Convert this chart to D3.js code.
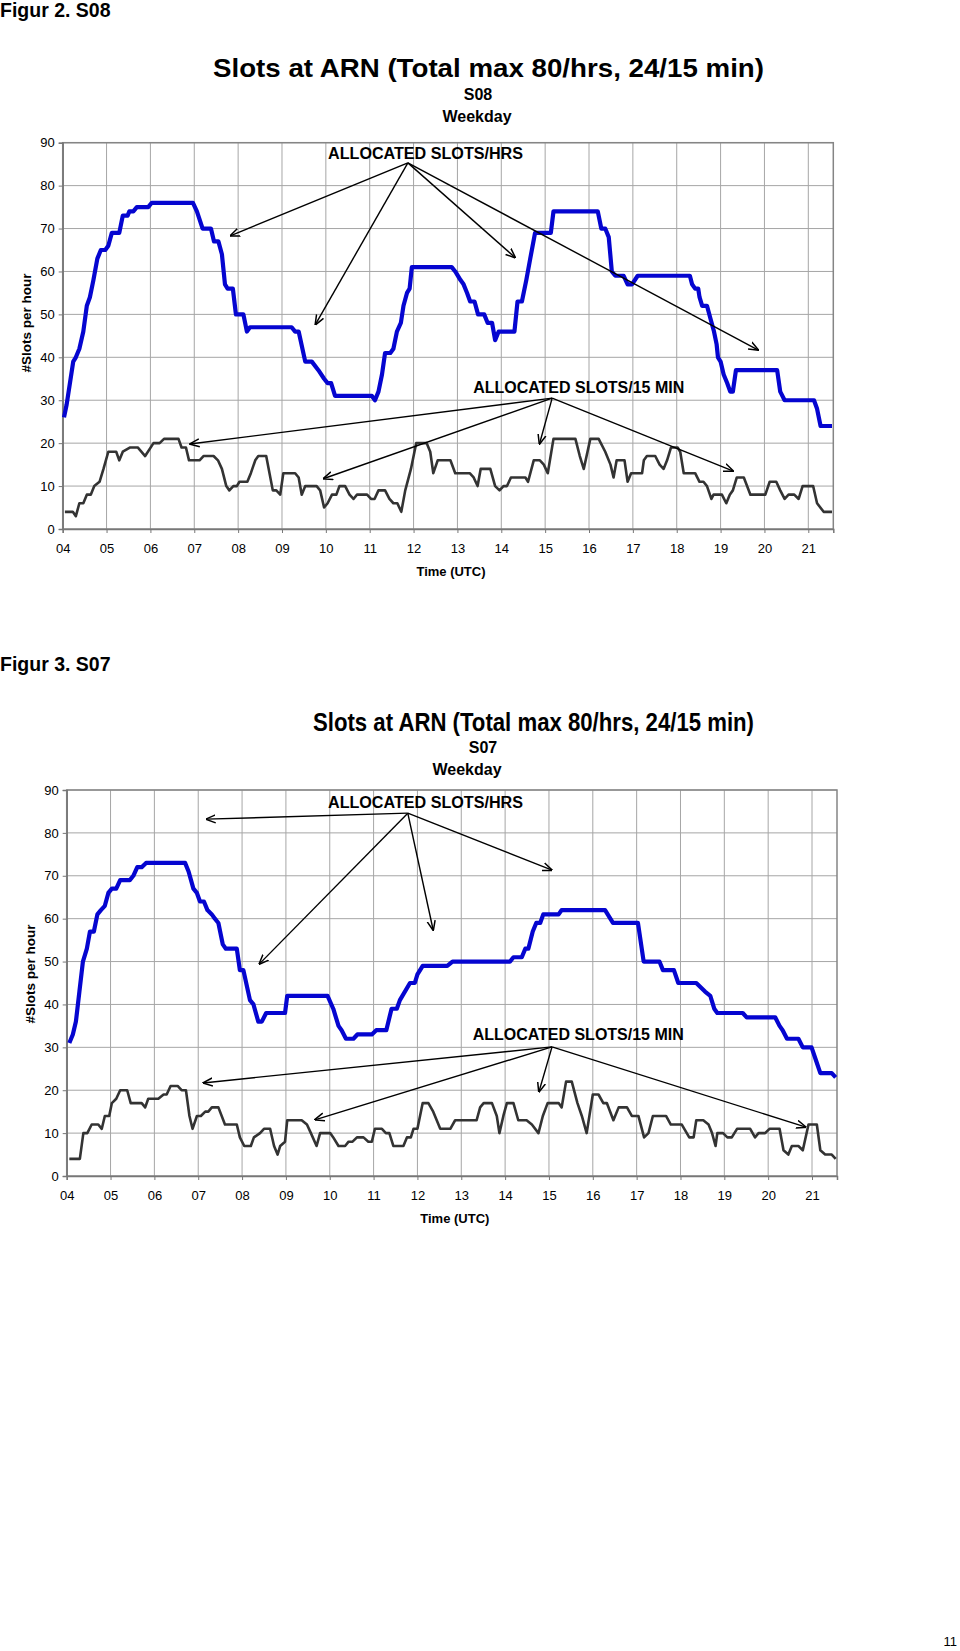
<!DOCTYPE html>
<html><head><meta charset="utf-8">
<script src="https://cdn.jsdelivr.net/npm/d3@7"></script>
<style>
body{margin:0;background:#fff}
svg{display:block}
text{font-family:"Liberation Sans",Arial,Helvetica,sans-serif;fill:#000}
</style>
</head><body>
<svg id="c" width="960" height="1651"></svg>
<script>
// ---------- data ----------
const hourTicks = [4,5,6,7,8,9,10,11,12,13,14,15,16,17,18,19,20,21];
const hourLabels = ["04","05","06","07","08","09","10","11","12","13","14","15","16","17","18","19","20","21"];
const valueTicks = [0,10,20,30,40,50,60,70,80,90];

// S08: allocated slots per hour ([clock hour, slots])
const s08Hourly = [[4.03,26],[4.09,29],[4.24,39],[4.30,40],[4.38,42],[4.47,46],[4.55,52],[4.62,54],[4.70,58],[4.79,63],
[4.87,65],[4.97,65],[5.04,66],[5.12,69],[5.29,69],[5.37,73],[5.48,73],[5.52,74],[5.61,74],[5.69,75],
[5.95,75],[6.03,76],[6.97,76],[7.06,74],[7.19,70],[7.38,70],[7.45,67],[7.55,67],[7.63,64],[7.70,57],
[7.76,56],[7.88,56],[7.95,50],[8.12,50],[8.20,46],[8.27,47],[9.22,47],[9.30,46],[9.38,46],[9.53,39],
[9.68,39],[9.83,37],[9.96,35],[10.04,34],[10.12,34],[10.21,31],[11.05,31],[11.12,30],[11.20,32],[11.28,36],
[11.35,41],[11.47,41],[11.54,42],[11.62,46],[11.71,48],[11.77,52],[11.85,55],[11.91,56],[11.96,61],[12.87,61],
[12.95,60],[13.07,58],[13.14,57],[13.22,55],[13.29,53],[13.39,53],[13.47,50],[13.61,50],[13.69,48],[13.79,48],
[13.86,44],[13.94,46],[14.30,46],[14.37,53],[14.47,53],[14.57,58],[14.66,63],[14.77,69],[15.13,69],[15.19,74],
[16.20,74],[16.28,70],[16.37,70],[16.45,68],[16.52,60],[16.60,59],[16.79,59],[16.88,57],[16.98,57],[17.11,59],
[18.30,59],[18.35,57],[18.42,56],[18.49,56],[18.52,54],[18.58,52],[18.69,52],[18.77,49],[18.85,46],[18.91,43],
[18.94,40],[19.00,39],[19.07,36],[19.15,34],[19.22,32],[19.28,32],[19.35,37],[20.29,37],[20.36,32],[20.46,30],
[21.13,30],[21.20,28],[21.28,24],[21.54,24]];

// S08: allocated slots per 15 min
const s08Quarter = [[4.05,4],[4.23,4],[4.30,3],[4.38,6],[4.47,6],[4.55,8],[4.64,8],[4.72,10],[4.84,11],[4.93,14],
[5.04,18],[5.22,18],[5.29,16],[5.37,18],[5.54,19],[5.71,19],[5.88,17],[6.07,20],[6.21,20],[6.31,21],
[6.64,21],[6.71,19],[6.81,19],[6.88,16],[7.12,16],[7.21,17],[7.44,17],[7.54,16],[7.63,14],[7.73,10],
[7.80,9],[7.89,10],[7.97,10],[8.03,11],[8.21,11],[8.29,13],[8.39,16],[8.46,17],[8.64,17],[8.79,9],
[8.87,9],[8.96,8],[9.03,13],[9.30,13],[9.38,12],[9.45,8],[9.53,10],[9.79,10],[9.87,9],[9.96,5],
[10.04,6],[10.14,8],[10.24,8],[10.31,10],[10.44,10],[10.54,8],[10.63,7],[10.71,8],[10.94,8],[11.03,7],
[11.11,7],[11.20,9],[11.35,9],[11.45,7],[11.54,6],[11.63,6],[11.72,4],[11.81,9],[11.94,14],[12.06,20],
[12.30,20],[12.38,18],[12.45,13],[12.55,16],[12.84,16],[12.95,13],[13.28,13],[13.37,12],[13.46,10],[13.53,14],
[13.75,14],[13.86,10],[13.96,9],[14.05,10],[14.13,10],[14.22,12],[14.55,12],[14.61,11],[14.74,16],[14.88,16],
[14.97,15],[15.06,13],[15.19,21],[15.69,21],[15.79,17],[15.88,14],[16.03,21],[16.22,21],[16.37,18],[16.49,15],
[16.56,12],[16.63,16],[16.81,16],[16.88,11],[16.96,13],[17.21,13],[17.25,16],[17.32,17],[17.51,17],[17.61,15],
[17.70,14],[17.78,16],[17.87,19],[18.02,19],[18.08,18],[18.16,13],[18.42,13],[18.52,11],[18.61,11],[18.69,10],
[18.79,7],[18.84,8],[19.03,8],[19.13,6],[19.21,8],[19.28,9],[19.37,12],[19.53,12],[19.68,8],[20.02,8],
[20.12,11],[20.27,11],[20.36,9],[20.46,7],[20.55,8],[20.68,8],[20.78,7],[20.87,10],[21.11,10],[21.20,6],
[21.35,4],[21.54,4]];

// S07: allocated slots per hour
const s07Hourly = [[4.06,31],[4.14,33],[4.21,36],[4.29,43],[4.37,50],[4.46,53],[4.53,57],[4.62,57],[4.70,61],[4.78,62],
[4.87,63],[4.95,66],[5.03,67],[5.13,67],[5.22,69],[5.44,69],[5.52,70],[5.61,72],[5.71,72],[5.81,73],
[6.70,73],[6.78,71],[6.89,67],[6.97,66],[7.04,64],[7.13,64],[7.21,62],[7.31,61],[7.38,60],[7.46,59],
[7.56,54],[7.63,53],[7.88,53],[7.95,48],[8.03,48],[8.18,41],[8.26,40],[8.37,36],[8.45,36],[8.55,38],
[8.98,38],[9.03,42],[9.95,42],[10.08,39],[10.20,35],[10.27,34],[10.37,32],[10.54,32],[10.63,33],[10.96,33],
[11.06,34],[11.29,34],[11.41,39],[11.53,39],[11.60,41],[11.83,45],[11.94,45],[12.00,47],[12.12,49],[12.68,49],
[12.80,50],[14.11,50],[14.19,51],[14.38,51],[14.46,53],[14.53,53],[14.63,57],[14.71,59],[14.80,59],[14.87,61],
[15.22,61],[15.29,62],[16.28,62],[16.46,59],[17.03,59],[17.16,50],[17.52,50],[17.60,48],[17.85,48],[17.95,45],
[18.36,45],[18.56,43],[18.68,42],[18.77,39],[18.84,38],[19.42,38],[19.51,37],[20.16,37],[20.26,35],[20.33,34],
[20.43,32],[20.69,32],[20.79,30],[20.99,30],[21.09,27],[21.19,24],[21.45,24],[21.54,23]];

// S07: allocated slots per 15 min
const s07Quarter = [[4.06,4],[4.30,4],[4.38,10],[4.47,10],[4.57,12],[4.72,12],[4.80,11],[4.87,14],[4.97,14],[5.03,17],
[5.13,18],[5.22,20],[5.38,20],[5.46,17],[5.71,17],[5.79,16],[5.86,18],[6.09,18],[6.21,19],[6.28,19],
[6.37,21],[6.53,21],[6.62,20],[6.72,20],[6.80,14],[6.87,11],[6.97,14],[7.06,14],[7.16,15],[7.23,15],
[7.31,16],[7.46,16],[7.61,12],[7.88,12],[7.95,9],[8.05,7],[8.20,7],[8.27,9],[8.41,10],[8.50,11],
[8.64,11],[8.73,7],[8.81,5],[8.87,7],[8.98,8],[9.03,13],[9.36,13],[9.48,12],[9.57,10],[9.70,7],
[9.78,10],[10.01,10],[10.08,9],[10.20,7],[10.35,7],[10.43,8],[10.52,8],[10.62,9],[10.77,9],[10.88,8],
[10.96,8],[11.03,11],[11.19,11],[11.28,10],[11.36,10],[11.45,7],[11.68,7],[11.76,9],[11.85,9],[11.91,11],
[12.00,11],[12.12,17],[12.25,17],[12.36,15],[12.52,11],[12.75,11],[12.86,13],[13.35,13],[13.43,16],[13.51,17],
[13.70,17],[13.81,14],[13.87,10],[13.96,14],[14.04,17],[14.19,17],[14.30,13],[14.49,13],[14.61,12],[14.76,10],
[14.86,14],[14.97,17],[15.22,17],[15.29,16],[15.39,22],[15.52,22],[15.65,17],[15.75,14],[15.86,10],[16.00,19],
[16.13,19],[16.24,17],[16.32,17],[16.47,13],[16.59,16],[16.78,16],[16.89,14],[17.04,14],[17.17,9],[17.27,10],
[17.37,14],[17.67,14],[17.78,12],[18.03,12],[18.20,9],[18.30,9],[18.36,13],[18.52,13],[18.64,12],[18.72,10],
[18.80,7],[18.84,10],[18.97,10],[19.07,9],[19.17,9],[19.29,11],[19.59,11],[19.70,9],[19.78,10],[19.93,10],
[20.03,11],[20.26,11],[20.35,6],[20.46,5],[20.54,7],[20.69,7],[20.79,6],[20.92,12],[21.11,12],[21.19,6],
[21.30,5],[21.45,5],[21.54,4]];

// annotation arrows (data coordinates: origin, targets)
const s08HrsArrows = {from:[11.87,85.3], to:[[7.82,68.3],[9.76,47.6],[14.32,63.2],[19.86,41.7]]};
const s08QtrArrows = {from:[15.16,30.5], to:[[6.90,19.8],[9.94,11.7],[14.87,19.8],[19.29,13.5]]};
const s07HrsArrows = {from:[11.78,84.6], to:[[7.18,83.2],[8.39,49.4],[12.36,57.3],[15.07,71.3]]};
const s07QtrArrows = {from:[15.07,30.1], to:[[7.11,21.7],[9.66,13.1],[14.77,19.6],[20.86,11.4]]};

// ---------- drawing ----------
const svg = d3.select("#c");
const defs = svg.append("defs");
defs.append("marker").attr("id","ah").attr("viewBox","0 0 10 10")
  .attr("refX",9.5).attr("refY",5).attr("markerWidth",10).attr("markerHeight",10)
  .attr("markerUnits","userSpaceOnUse").attr("orient","auto")
  .append("path").attr("d","M0,1 L10,5 L0,9").attr("fill","none")
  .attr("stroke","#000").attr("stroke-width",1.5);

svg.append("text").attr("x",0).attr("y",17).attr("font-size",19.5).attr("font-weight","bold").text("Figur 2. S08");
svg.append("text").attr("x",0).attr("y",671).attr("font-size",19.5).attr("font-weight","bold").text("Figur 3. S07");
svg.append("text").attr("x",957).attr("y",1646).attr("text-anchor","end").attr("font-size",13).text("11");

function drawChart(cfg){
  const x = d3.scaleLinear().domain([4, 21.57]).range([cfg.left, cfg.right]);
  const y = d3.scaleLinear().domain([0, 90]).range([cfg.bottom, cfg.top]);
  const g = svg.append("g");

  // titles
  g.append("text").attr("x",cfg.titleX).attr("y",cfg.titleY).attr("font-size",25).attr("font-weight","bold")
    .attr("textLength",cfg.titleW).attr("lengthAdjust","spacingAndGlyphs")
    .text("Slots at ARN (Total max 80/hrs, 24/15 min)");
  g.append("text").attr("x",cfg.subX).attr("y",cfg.subY).attr("text-anchor","middle")
    .attr("font-size",16).attr("font-weight","bold").text(cfg.season);
  g.append("text").attr("x",cfg.dayX).attr("y",cfg.subY+22).attr("text-anchor","middle")
    .attr("font-size",16).attr("font-weight","bold").text("Weekday");

  // grid
  g.append("g").selectAll("line").data(valueTicks.filter(v=>v>0)).join("line")
    .attr("x1",cfg.left).attr("x2",cfg.right).attr("y1",d=>y(d)).attr("y2",d=>y(d))
    .attr("stroke","#a6a6a6").attr("stroke-width",1);
  g.append("g").selectAll("line").data(hourTicks.filter(h=>h>4)).join("line")
    .attr("x1",d=>x(d)).attr("x2",d=>x(d)).attr("y1",cfg.top).attr("y2",cfg.bottom)
    .attr("stroke","#a6a6a6").attr("stroke-width",1);
  g.append("rect").attr("x",cfg.left).attr("y",cfg.top)
    .attr("width",cfg.right-cfg.left).attr("height",cfg.bottom-cfg.top)
    .attr("fill","none").attr("stroke","#858585").attr("stroke-width",1.5);

  // axes
  const ya = d3.axisLeft(y).tickValues(valueTicks).tickSize(4).tickPadding(4).tickFormat(d3.format("d"));
  const yg = g.append("g").attr("transform",`translate(${cfg.left},0)`).call(ya);
  const xa = d3.axisBottom(x).tickValues(hourTicks).tickSize(4).tickPadding(11)
    .tickFormat((d,i)=>hourLabels[i]);
  const xg = g.append("g").attr("transform",`translate(0,${cfg.bottom})`).call(xa);
  [yg,xg].forEach(a=>{
    a.select(".domain").attr("stroke","#777").attr("stroke-width",1.5);
    a.selectAll(".tick line").attr("stroke","#777");
    a.selectAll("text").attr("font-size",13).attr("font-family","Liberation Sans, Arial, sans-serif").attr("fill","#000");
  });

  g.append("text").attr("x",(cfg.left+cfg.right)/2+3).attr("y",cfg.bottom+47)
    .attr("text-anchor","middle").attr("font-size",13).attr("font-weight","bold").text("Time (UTC)");
  g.append("text").attr("transform",`translate(${cfg.left-32},${cfg.yLabelY}) rotate(-90)`)
    .attr("text-anchor","middle").attr("font-size",13.5).attr("font-weight","bold").text("#Slots per hour");

  // series
  const line = d3.line().x(d=>x(d[0])).y(d=>y(d[1]));
  g.append("path").datum(cfg.quarter).attr("d",line).attr("fill","none")
    .attr("stroke","#333").attr("stroke-width",2.6).attr("stroke-linejoin","round");
  g.append("path").datum(cfg.hourly).attr("d",line).attr("fill","none")
    .attr("stroke","#0505d0").attr("stroke-width",4.2).attr("stroke-linejoin","round");

  // annotations
  [cfg.hrsArrows, cfg.qtrArrows].forEach(a=>{
    g.append("g").selectAll("line").data(a.to).join("line")
      .attr("x1",x(a.from[0])).attr("y1",y(a.from[1]))
      .attr("x2",d=>x(d[0])).attr("y2",d=>y(d[1]))
      .attr("stroke","#000").attr("stroke-width",1.4).attr("marker-end","url(#ah)");
  });
  g.append("text").attr("x",x(cfg.hrsLabel[0])).attr("y",y(cfg.hrsLabel[1]))
    .attr("font-size",16).attr("font-weight","bold").attr("textLength",195).attr("lengthAdjust","spacingAndGlyphs")
    .text("ALLOCATED SLOTS/HRS");
  g.append("text").attr("x",x(cfg.qtrLabel[0])).attr("y",y(cfg.qtrLabel[1]))
    .attr("font-size",16).attr("font-weight","bold").attr("textLength",211).attr("lengthAdjust","spacingAndGlyphs")
    .text("ALLOCATED SLOTS/15 MIN");
}

drawChart({left:62.7,right:833.3,top:142.7,bottom:529,
  titleX:213,titleY:77,titleW:551,subX:478,dayX:477,subY:100,season:"S08",yLabelY:323,
  hourly:s08Hourly,quarter:s08Quarter,hrsArrows:s08HrsArrows,qtrArrows:s08QtrArrows,
  hrsLabel:[10.05,86.2],qtrLabel:[13.36,31.8]});

drawChart({left:66.7,right:837,top:790,bottom:1176,
  titleX:313,titleY:731,titleW:441,subX:483,dayX:467,subY:753,season:"S07",yLabelY:974,
  hourly:s07Hourly,quarter:s07Quarter,hrsArrows:s07HrsArrows,qtrArrows:s07QtrArrows,
  hrsLabel:[9.96,85.8],qtrLabel:[13.26,31.7]});
</script>
</body></html>
